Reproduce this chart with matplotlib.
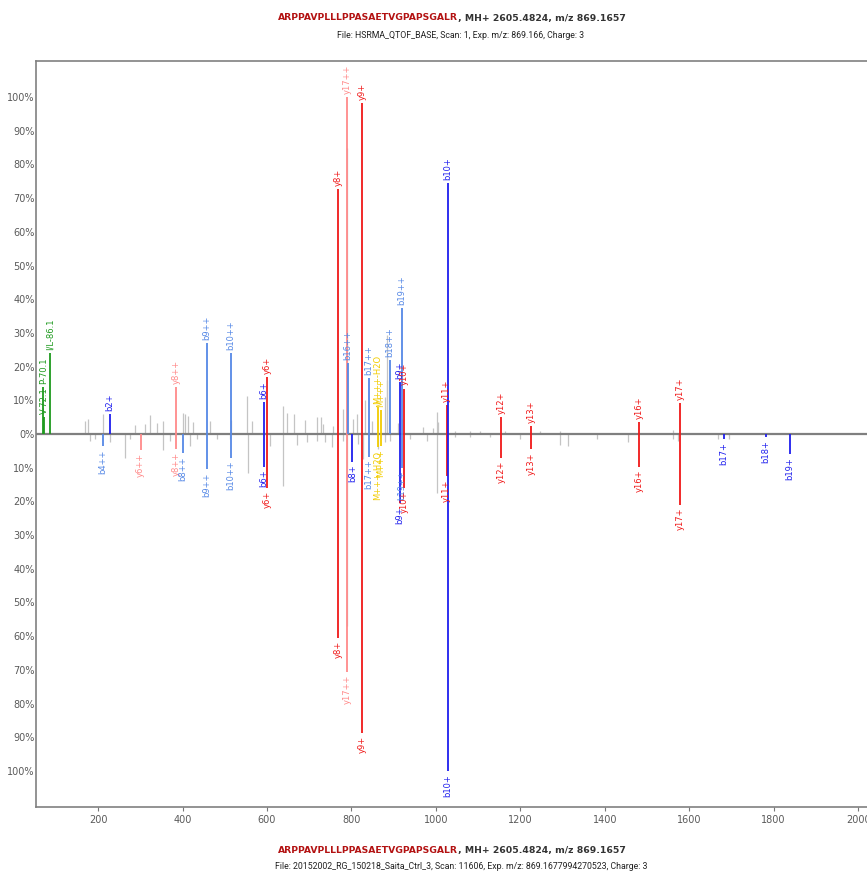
import matplotlib
matplotlib.use("Agg")
import matplotlib.pyplot as plt

# ---------------------------------------------------------------------
# DATA
# ---------------------------------------------------------------------

peptide = "ARPPAVPLLLPPASAETVGPAPSGALR"
precursor = ", MH+ 2605.4824, m/z 869.1657"
top_file = "File: HSRMA_QTOF_BASE, Scan: 1, Exp. m/z: 869.166, Charge: 3"
bottom_file = ("File: 20152002_RG_150218_Saita_Ctrl_3, Scan: 11606, "
               "Exp. m/z: 869.1677994270523, Charge: 3")

# annotated fragments, upper (library) spectrum
top_labels = ["P-70.1", "V-72.1", "I/L-86.1", "b2+", "y8++", "b9++", "b10++",
              "b6+", "y6+", "y8+", "y17++", "b16++", "y9+", "b17++",
              "M+++-H2O", "M+++", "b18++", "b9+", "b19++", "y10+", "y11+",
              "b10+", "y12+", "y13+", "y16+", "y17+"]
top_mz = [70.1, 72.1, 86.1, 228.2, 384.7, 458.3, 514.8,
          592.4, 600.3, 768.4, 789.4, 790.9, 825.5, 841.5,
          863.2, 869.2, 891.0, 915.6, 919.5, 924.5, 1025.6,
          1028.7, 1154.6, 1225.7, 1480.8, 1577.8]
top_int = [14, 5, 24, 6, 14, 27, 24,
           9.6, 17, 72.7, 100, 21, 98.3, 16.6,
           8, 7, 22, 15.5, 37.3, 13.5, 8.6,
           74.4, 5, 2.5, 3.5, 9.1]

# annotated fragments, lower (measured) spectrum
bot_labels = ["b4++", "y6++", "y8++", "b8++", "b9++", "b10++", "b6+", "y6+",
              "y8+", "y17++", "b8+", "y9+", "b17++", "M+++-H2O", "M+++",
              "b9+", "b19++", "y10+", "y11+", "b10+", "y12+", "y13+",
              "y16+", "y17+", "b17+", "b18+", "b19+"]
bot_mz = [211.6, 300.7, 384.7, 401.7, 458.3, 514.8, 592.4, 600.3,
          768.4, 789.4, 802.5, 825.5, 841.5, 863.2, 869.2,
          915.6, 919.5, 924.5, 1025.6, 1028.7, 1154.6, 1225.7,
          1480.8, 1577.8, 1681.9, 1781.0, 1838.0]
bot_int = [3.7, 4.7, 4.5, 5.7, 10.5, 7, 9.7, 16,
           60.6, 70.5, 8.2, 88.8, 6.7, 4, 3.5,
           20.5, 10, 16, 12.6, 100, 7, 4.5,
           9.7, 21, 1.5, 1.0, 6]

# unannotated peaks
top_grey_mz = [169.2, 177, 211, 287.6, 311.3, 323.2, 339, 354.6, 402, 406,
               413.9, 425.7, 465.2, 515, 552.2, 564, 638.9, 646.9, 665,
               690.3, 719.4, 727.4, 733.6, 757.3, 781, 789, 804.6, 812.7,
               832.4, 848.2, 879.7, 883.7, 885.2, 911.2, 919.3, 970.4,
               994, 1002.2, 1005, 1045, 1081, 1105, 1164, 1247, 1294, 1562]
top_grey_int = [3.9, 4.4, 6, 2.6, 2.9, 5.6, 3.3, 4, 6.2, 5.9,
                5.2, 3.7, 4, 4.3, 11.4, 4, 8.3, 6.2, 5.9,
                4.3, 5, 5, 3, 2.5, 7.4, 85, 4.4, 5.9,
                10, 4, 11, 16, 29.4, 3.3, 4.4, 2,
                1.7, 6.6, 3.5, 1, 1, 1, 1, 1, 1, 1.2]

bot_grey_mz = [181, 193, 228.4, 264, 276, 354.6, 370.5, 417.9, 433.7, 481,
               512.6, 556, 607.4, 638.9, 670.6, 694.3, 718, 737.6, 753.5,
               781, 789, 816.5, 828.3, 863.8, 879.7, 891.6, 939, 978.5,
               1002.2, 1045.5, 1081, 1128, 1199, 1294.2, 1313.8, 1381,
               1456, 1562.5, 1573.7, 1668, 1694]
bot_grey_int = [2, 1.5, 2.5, 7.2, 1.5, 4.7, 2, 3.6, 1.5, 1.5,
                1.5, 11.6, 3.5, 15.5, 3.4, 2.4, 2, 2.5, 4,
                2, 57, 3, 7.5, 4.5, 2.5, 2, 1.5, 2,
                17.5, 1, 1, 1, 1.5, 3.3, 3.7, 1.5,
                2.5, 1.5, 2, 1.5, 1.5]

x_ticks = [200, 400, 600, 800, 1000, 1200, 1400, 1600, 1800, 2000]
y_ticks = [-100, -90, -80, -70, -60, -50, -40, -30, -20, -10,
           0, 10, 20, 30, 40, 50, 60, 70, 80, 90, 100]


# ---------------------------------------------------------------------
# STYLE HELPERS
# ---------------------------------------------------------------------

def ion_color(label: str) -> str:
    if label.startswith("M"):
        return "#f2cc00"
    if label[0] not in "by":
        return "#1e9a1e"
    double = label.endswith("++")
    if label[0] == "b":
        return "#5588e6" if double else "#1f1fee"
    return "#ff8a8a" if double else "#f01818"


def draw_ions(ax, labels, mz, inten, sign):
    for lab, m, h in zip(labels, mz, inten):
        c = ion_color(lab)
        ax.vlines(m, 0, sign * h, color=c, lw=1.3, zorder=3)
        y = sign * (h + 0.9)
        ax.text(m, y, lab, rotation=90, ha="center",
                va="bottom" if sign > 0 else "top",
                color=c, fontsize=6, zorder=4)


# ---------------------------------------------------------------------
# FIGURE
# ---------------------------------------------------------------------

fig = plt.figure(figsize=(8.67, 8.72), dpi=100)
ax = fig.add_axes([36 / 867, 1 - 807 / 872, 1 - 36 / 867, 746 / 872])

ax.vlines(top_grey_mz, 0, top_grey_int, color="#c4c4c4", lw=0.9, zorder=1)
ax.vlines(bot_grey_mz, 0, [-v for v in bot_grey_int], color="#c4c4c4",
          lw=0.9, zorder=1)
draw_ions(ax, top_labels, top_mz, top_int, 1)
draw_ions(ax, bot_labels, bot_mz, bot_int, -1)

ax.axhline(0, color="#7f7f7f", lw=1.6, zorder=2)

ax.set_xlim(53, 2021)
ax.set_ylim(-110.7, 110.7)

ax.set_xticks(x_ticks)
ax.set_xticklabels([str(t) for t in x_ticks])
ax.set_yticks(y_ticks)
ax.set_yticklabels([f"{abs(t)}%" for t in y_ticks])
ax.tick_params(axis="y", length=0, pad=1, labelsize=7, labelcolor="#5a5a5a")
ax.tick_params(axis="x", length=3, width=0.8, color="#777777", pad=3,
               labelsize=7, labelcolor="#5a5a5a")

for side in ("left", "bottom", "top"):
    ax.spines[side].set_color("#808080")
    ax.spines[side].set_linewidth(1.2)
ax.spines["right"].set_visible(False)

# headers
split_x = 458 / 867
for y_pep, y_file, file_txt in ((1 - 18 / 872, 1 - 35 / 872, top_file),
                                (1 - 850 / 872, 1 - 866 / 872, bottom_file)):
    fig.text(split_x, y_pep, peptide, ha="right", va="center",
             color="#b31212", fontsize=6.7, weight="bold")
    fig.text(split_x, y_pep, precursor, ha="left", va="center",
             color="#333333", fontsize=6.7, weight="bold")
    fig.text(461 / 867, y_file, file_txt, ha="center", va="center",
             color="#222222", fontsize=6.3, family="Roboto")

fig.savefig("out.png", dpi=100)
